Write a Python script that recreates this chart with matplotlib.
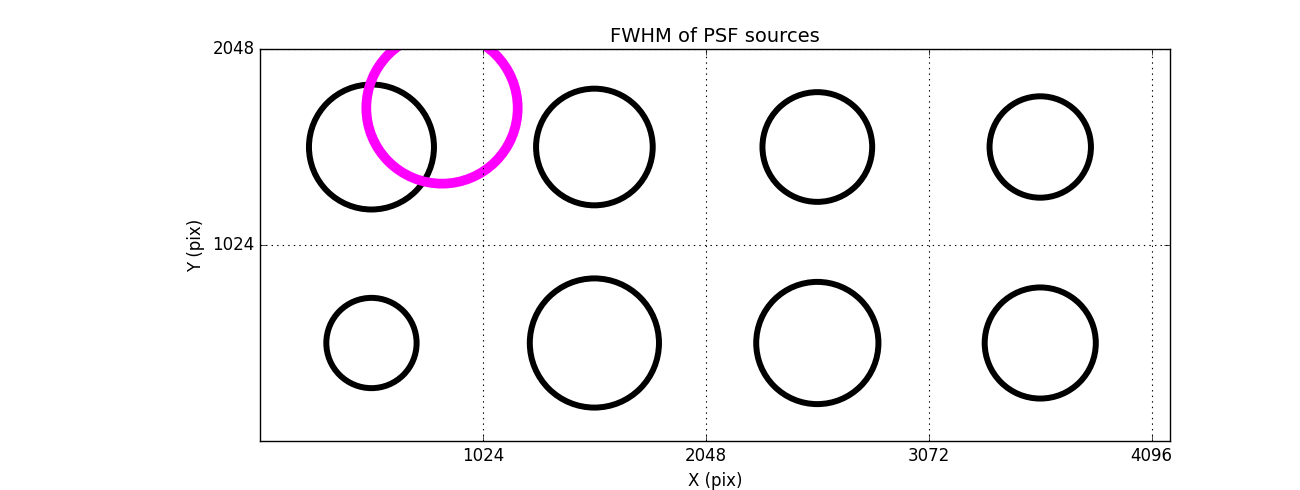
import matplotlib
matplotlib.use("Agg")
import matplotlib.pyplot as plt
import numpy as np

plt.style.use('classic')

# source positions on the detector (pix)
x_src = [512, 1536, 2560, 3584, 512, 1536, 2560, 3584]
y_src = [1536, 1536, 1536, 1536, 512, 512, 512, 512]
# FWHM of each source, drawn as marker diameter (points)
fwhm = [90, 84, 79, 73, 65, 93, 88, 80]

# reference PSF
x_ref = [836]
y_ref = [1740]
fwhm_ref = [109]

fig = plt.figure(figsize=(13, 4.9), dpi=100, facecolor='white')
ax = fig.add_axes([0.2, 0.1, 0.7, 0.8])

ax.scatter(x_src, y_src, s=np.array(fwhm)**2, facecolors='none',
           edgecolors='black', linewidths=4.3)
ax.scatter(x_ref, y_ref, s=np.array(fwhm_ref)**2, facecolors='none',
           edgecolors='magenta', linewidths=7)

ax.set_xlim(0, 4180)
ax.set_ylim(0, 2048)
ax.set_xticks([1024, 2048, 3072, 4096])
ax.set_yticks([1024, 2048])
ax.tick_params(labelsize=12)
ax.grid(True, color='black', linestyle=':', linewidth=0.8)

ax.set_xlabel('X (pix)', fontsize=12)
ax.set_ylabel('Y (pix)', fontsize=12)
ax.set_title('FWHM of PSF sources', fontsize=14)

fig.savefig('out.png', dpi=100, facecolor='white')
